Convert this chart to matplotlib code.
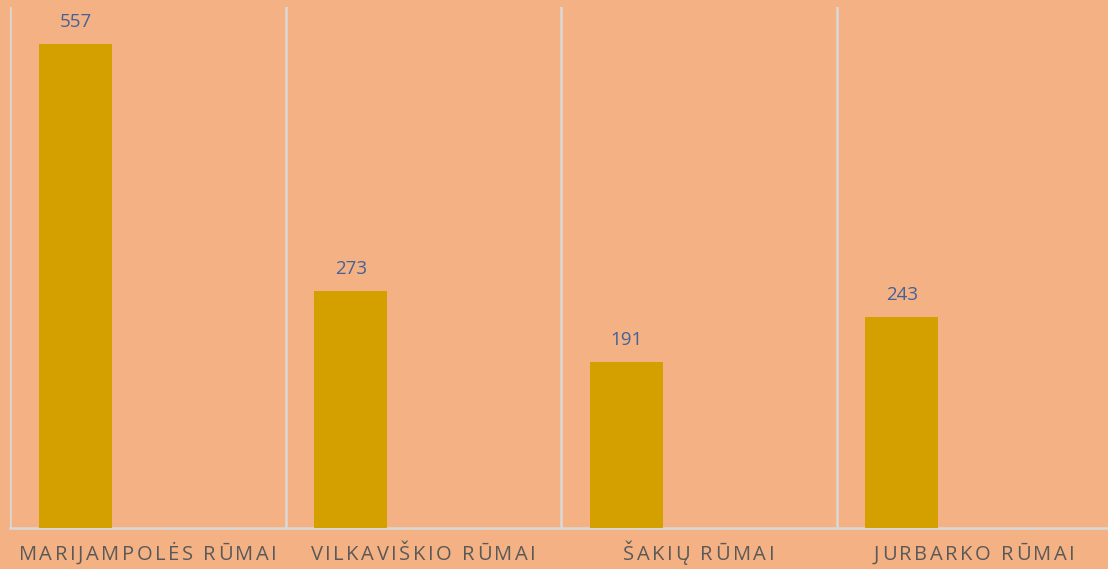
import matplotlib.pyplot as plt
import numpy as np

plt.rcParams['font.family'] = ['Open Sans', 'DejaVu Sans']

categories = ['MARIJAMPOLĖS RŪMAI', 'VILKAVIŠKIO RŪMAI', 'ŠAKIŲ RŪMAI', 'JURBARKO RŪMAI']
values = [557, 273, 191, 243]

bg = '#F4B183'
bar_color = '#D4A000'
line_color = '#D9D9D9'

fig = plt.figure(figsize=(11.08, 5.69), dpi=100, facecolor=bg)
ax = fig.add_axes([10 / 1108, 41 / 569, 1102 / 1108, 521 / 569])
ax.set_facecolor(bg)

x = np.arange(len(categories))
bar_w = 0.265
bar_x = x + 0.105 + bar_w / 2
bars = ax.bar(bar_x, values, width=bar_w, color=bar_color, zorder=3)

for bx, v in zip(bar_x, values):
    ax.text(bx, v + 15, str(v), ha='center', va='bottom', fontsize=13.5,
            color='#44619A')

# slot separators
for i in range(len(categories)):
    ax.axvline(i, color=line_color, lw=1.8, zorder=1)

ax.set_xlim(0, len(categories))
ax.set_ylim(0, 600)
for s in ['top', 'right', 'left']:
    ax.spines[s].set_visible(False)
ax.spines['bottom'].set_color(line_color)
ax.spines['bottom'].set_linewidth(1.8)
ax.set_yticks([])
ax.set_xticks([])

# category labels with letter spacing, placed char by char
renderer = fig.canvas.get_renderer()
fsize = 14.5
label_y = 555  # px from top


def text_w(s):
    t = fig.text(0, 0, s + 'I', fontsize=fsize)
    w = t.get_window_extent(renderer).width
    t.remove()
    return w


w_I = text_w('')


def advances(s):
    # left offset of each char, no tracking
    return [text_w(s[:k]) - w_I if k else 0.0 for k in range(len(s) + 1)]


first = advances(categories[0])
# tracking chosen so the first label spans ~258 px like the reference
natural = first[-2] + (text_w(categories[0][-1]) - w_I)
tracking = (258 - natural) / (len(categories[0]) - 1)

for i, c in enumerate(categories):
    offs = advances(c)
    last_w = text_w(c[-1]) - w_I
    total = offs[-2] + last_w + tracking * (len(c) - 1)
    cx = ax.transData.transform((i + 0.5, 0))[0]
    x0 = cx - total / 2
    for k, ch in enumerate(c):
        if ch == ' ':
            continue
        px = x0 + offs[k] + tracking * k
        fig.text(px / 1108, 1 - label_y / 569, ch, fontsize=fsize,
                 color='#595959', ha='left', va='center')

fig.savefig('out.png', dpi=100, facecolor=bg)
